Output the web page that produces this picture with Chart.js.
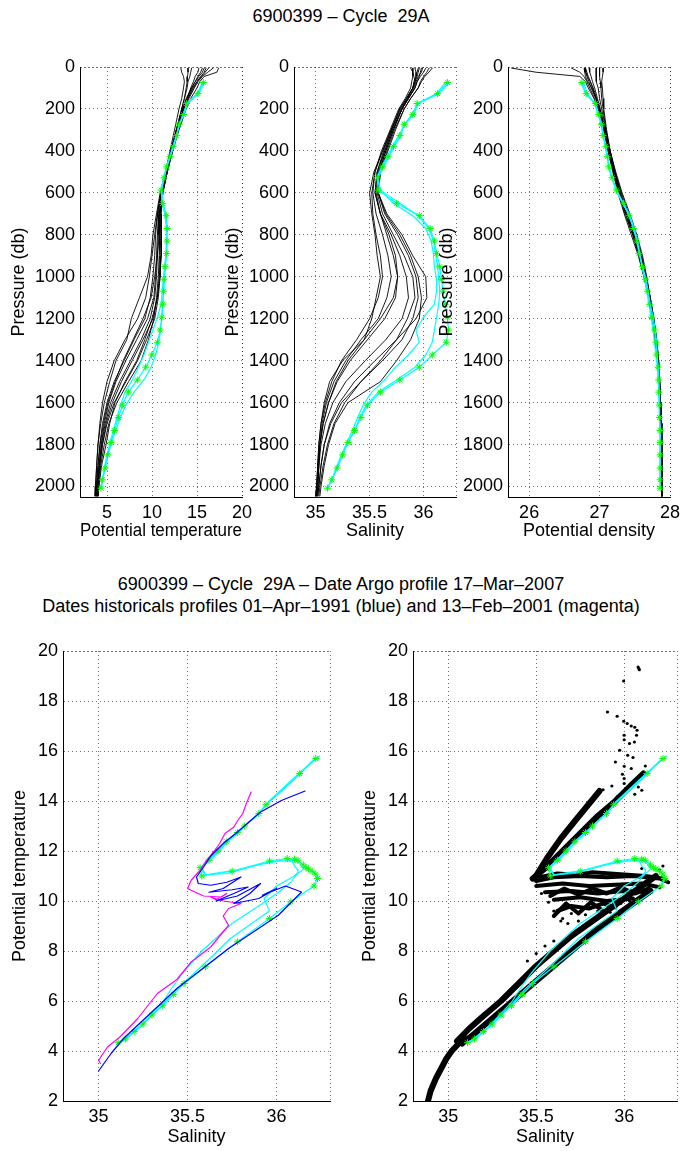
<!DOCTYPE html>
<html>
<head>
<meta charset="utf-8">
<script src="https://cdn.jsdelivr.net/npm/chart.js@4.4.0/dist/chart.umd.min.js"></script>
<style>
  body { margin: 0; background: #fff; width: 682px; height: 1151px; overflow: hidden; position: relative;
         font-family: "Liberation Sans", Arial, sans-serif; }
  canvas { position: absolute; }
  .ttl { position: absolute; left: 0; width: 682px; text-align: center; font-size: 18px; line-height: 21.7px;
         color: #000; white-space: nowrap; }
</style>
</head>
<body>
<div class="ttl" style="top:6px">6900399 – Cycle&nbsp;&nbsp;29A</div>
<div class="ttl" style="top:574px">6900399 – Cycle&nbsp;&nbsp;29A – Date Argo profile 17–Mar–2007<br>Dates historicals profiles 01–Apr–1991 (blue) and 13–Feb–2001 (magenta)</div>
<canvas id="pTemp"></canvas>
<canvas id="pSal"></canvas>
<canvas id="pDens"></canvas>
<canvas id="tsHist"></canvas>
<canvas id="tsCloud"></canvas>
<script>
// ---- data ----
const presTicks  = [0, 200, 400, 600, 800, 1000, 1200, 1400, 1600, 1800, 2000];
const tempTicks  = [5, 10, 15, 20];
const salTicks   = [35, 35.5, 36];
const densTicks  = [26, 27, 28];
const thetaTicks = [2, 4, 6, 8, 10, 12, 14, 16, 18, 20];

// historical profiles (black), one row per profile
const histPres = [5, 25, 45, 70, 100, 150, 200, 300, 400, 500, 600, 700, 800, 900, 1000, 1100, 1200, 1300, 1400, 1500, 1600, 1700, 1800, 1900, 2000, 2045];
const histTemp = [
  [17.4,17.2,15.8,15.3,15.0,14.3,13.8,13.0,12.3,11.7,11.2,11.0,10.9,10.8,10.7,10.5,10.2,9.6,8.8,7.4,6.1,5.2,4.7,4.3,4.1,4.0],
  [16.0,15.8,15.4,15.0,14.6,14.0,13.6,12.9,12.2,11.6,11.1,10.9,10.8,10.9,10.9,10.6,10.0,9.2,8.3,7.0,5.9,5.3,4.9,4.4,4.1,4.0],
  [13.2,13.3,13.5,13.6,13.5,13.3,13.0,12.5,12.0,11.5,11.0,10.6,10.3,10.0,9.7,9.3,8.4,7.0,5.8,5.0,4.5,4.2,4.0,3.85,3.75,3.7],
  [15.2,15.1,14.8,14.6,14.3,13.9,13.5,12.8,12.2,11.6,11.1,10.8,10.6,10.5,10.4,10.2,9.5,8.3,7.1,6.0,5.2,4.7,4.35,4.1,3.9,3.85],
  [14.4,14.3,14.2,14.0,13.9,13.6,13.3,12.7,12.1,11.5,10.9,10.5,10.1,9.9,9.5,8.6,7.7,7.2,6.0,5.3,4.7,4.3,4.0,3.85,3.7,3.65],
  [16.8,16.2,15.6,15.1,14.7,14.1,13.6,12.9,12.3,11.7,11.2,11.0,11.1,11.0,10.8,10.6,10.1,9.0,7.8,6.6,5.6,4.9,4.5,4.2,4.0,3.9],
  [15.6,15.4,15.1,14.8,14.4,13.8,13.4,12.7,12.1,11.6,11.0,10.7,10.7,10.6,10.5,10.3,9.8,8.8,7.6,6.4,5.4,4.8,4.4,4.15,3.95,3.9],
  [14.0,14.0,13.95,13.9,13.8,13.6,13.3,12.7,12.1,11.5,11.0,10.6,10.4,10.3,10.1,9.8,9.2,8.0,6.9,5.8,5.0,4.5,4.2,4.0,3.8,3.75],
  [16.3,15.9,15.5,15.0,14.5,14.0,13.5,12.8,12.2,11.7,11.2,10.9,10.8,10.6,10.3,9.9,9.0,7.9,6.8,5.9,5.1,4.6,4.25,4.0,3.85,3.8],
  [15.8,15.6,15.2,14.8,14.4,13.9,13.4,12.8,12.2,11.6,11.1,10.8,10.9,11.0,10.9,10.7,10.3,9.4,8.4,7.1,5.8,5.0,4.5,4.2,4.0,3.95]
];
const histSal = [
  [36.05,36.03,36.0,35.97,35.95,35.88,35.82,35.74,35.67,35.60,35.58,35.65,35.78,35.88,35.95,35.98,35.96,35.88,35.75,35.60,35.30,35.18,35.12,35.08,35.05,35.04],
  [35.92,35.93,35.93,35.91,35.90,35.85,35.80,35.72,35.65,35.59,35.57,35.62,35.72,35.82,35.90,35.92,35.85,35.75,35.60,35.42,35.27,35.17,35.11,35.07,35.04,35.03],
  [35.88,35.90,35.91,35.92,35.90,35.84,35.78,35.70,35.62,35.55,35.52,35.53,35.56,35.60,35.62,35.58,35.50,35.38,35.24,35.15,35.09,35.05,35.03,35.02,35.01,35.00],
  [35.98,35.97,35.96,35.94,35.92,35.86,35.80,35.71,35.64,35.57,35.55,35.60,35.66,35.72,35.76,35.74,35.64,35.48,35.32,35.20,35.12,35.07,35.04,35.03,35.02,35.01],
  [35.95,35.94,35.93,35.92,35.90,35.84,35.78,35.70,35.62,35.54,35.50,35.52,35.55,35.57,35.60,35.56,35.52,35.45,35.25,35.13,35.08,35.05,35.03,35.02,35.01,35.00],
  [36.08,36.05,36.01,35.98,35.95,35.88,35.82,35.73,35.66,35.60,35.58,35.66,35.80,35.90,36.02,36.03,35.93,35.75,35.55,35.36,35.22,35.13,35.08,35.05,35.03,35.02],
  [35.96,35.95,35.94,35.92,35.90,35.85,35.79,35.70,35.63,35.57,35.55,35.60,35.70,35.78,35.84,35.86,35.80,35.65,35.46,35.28,35.16,35.09,35.05,35.03,35.02,35.01],
  [35.90,35.90,35.90,35.89,35.88,35.83,35.77,35.69,35.61,35.55,35.53,35.56,35.62,35.67,35.70,35.66,35.58,35.42,35.28,35.17,35.10,35.06,35.04,35.02,35.01,35.00],
  [36.02,36.00,35.97,35.94,35.92,35.86,35.80,35.71,35.64,35.58,35.56,35.60,35.68,35.74,35.76,35.72,35.60,35.45,35.30,35.19,35.12,35.07,35.04,35.03,35.02,35.01],
  [35.99,35.98,35.95,35.93,35.91,35.86,35.80,35.72,35.65,35.59,35.58,35.64,35.76,35.86,35.93,35.95,35.90,35.80,35.62,35.42,35.24,35.14,35.08,35.05,35.03,35.02]
];
const histDens = [
  [25.75,26.1,26.72,26.8,26.84,26.92,26.98,27.06,27.12,27.19,27.27,27.36,27.47,27.56,27.63,27.70,27.75,27.79,27.82,27.845,27.86,27.87,27.875,27.88,27.885,27.885],
  [26.8,26.8,26.82,26.85,26.88,26.95,27.0,27.07,27.13,27.2,27.28,27.38,27.49,27.58,27.65,27.71,27.76,27.8,27.83,27.85,27.865,27.873,27.878,27.882,27.886,27.887],
  [27.05,27.05,27.04,27.03,27.04,27.05,27.06,27.1,27.15,27.22,27.3,27.4,27.5,27.59,27.65,27.71,27.76,27.8,27.83,27.85,27.862,27.87,27.876,27.88,27.883,27.885],
  [26.8,26.81,26.83,26.87,26.9,26.95,27.0,27.08,27.14,27.21,27.29,27.39,27.5,27.59,27.66,27.72,27.77,27.81,27.84,27.855,27.866,27.874,27.879,27.883,27.886,27.887],
  [26.95,26.95,26.95,26.96,26.98,27.0,27.03,27.09,27.15,27.23,27.32,27.43,27.53,27.61,27.67,27.72,27.77,27.81,27.835,27.85,27.862,27.87,27.876,27.88,27.884,27.885],
  [26.6,26.72,26.78,26.82,26.86,26.93,26.99,27.06,27.12,27.19,27.26,27.35,27.45,27.55,27.63,27.7,27.75,27.79,27.825,27.848,27.862,27.872,27.878,27.882,27.886,27.887],
  [26.78,26.79,26.8,26.83,26.89,26.95,27.0,27.07,27.13,27.2,27.28,27.38,27.48,27.57,27.64,27.71,27.76,27.8,27.83,27.852,27.865,27.873,27.878,27.882,27.885,27.886],
  [27.0,27.0,27.0,27.01,27.02,27.03,27.05,27.09,27.15,27.22,27.31,27.41,27.51,27.6,27.66,27.72,27.77,27.81,27.84,27.855,27.866,27.874,27.879,27.883,27.886,27.887],
  [26.85,26.86,26.88,26.9,26.93,26.97,27.01,27.08,27.14,27.21,27.29,27.39,27.49,27.58,27.65,27.71,27.76,27.8,27.835,27.853,27.865,27.873,27.878,27.882,27.885,27.886],
  [26.8,26.82,26.84,26.87,26.91,26.96,27.0,27.07,27.13,27.2,27.28,27.37,27.47,27.56,27.63,27.7,27.75,27.79,27.825,27.848,27.862,27.872,27.878,27.882,27.885,27.887]
];

// Argo profile (cyan + green stars)
const argoPres = [74,127,174,227,273,327,378,428,476,528,587,650,709,770,830,889,952,1012,1069,1131,1193,1254,1312,1373,1431,1492,1550,1612,1671,1733,1790,1849,1912,1968,2008];
const argoTemp = [15.7,15.1,13.85,13.5,13.0,12.74,12.37,12.0,11.63,11.33,11.0,11.19,11.6,11.7,11.67,11.63,11.44,11.33,11.28,11.19,11.08,10.9,10.6,9.97,9.3,8.37,7.37,6.7,6.26,5.81,5.44,5.08,4.78,4.48,4.33];
const argoSal  = [36.22,36.13,35.94,35.90,35.82,35.78,35.72,35.67,35.62,35.57,35.58,35.75,35.96,36.06,36.10,36.12,36.15,36.165,36.18,36.20,36.22,36.23,36.21,36.08,35.96,35.78,35.60,35.48,35.42,35.36,35.30,35.25,35.20,35.15,35.11];
const argoDens = [26.75,26.81,26.94,26.99,27.03,27.05,27.09,27.11,27.13,27.18,27.24,27.34,27.42,27.48,27.53,27.56,27.61,27.65,27.68,27.71,27.74,27.78,27.80,27.81,27.83,27.84,27.84,27.85,27.85,27.86,27.86,27.86,27.86,27.86,27.86];
// neighbouring Argo cycles (cyan, no markers), same pressure levels
const nearTemp = [
  [15.6,15.0,13.9,13.45,13.05,12.7,12.33,11.95,11.6,11.3,11.05,11.1,11.45,11.6,11.6,11.55,11.4,11.25,11.15,11.0,10.6,10.1,9.6,9.1,8.5,7.8,7.0,6.5,6.1,5.7,5.35,5.0,4.7,4.45,4.3],
  [15.8,15.2,13.95,13.55,13.0,12.75,12.4,12.02,11.65,11.35,11.05,11.25,11.55,11.65,11.62,11.6,11.5,11.38,11.3,11.2,11.1,10.95,10.75,10.4,9.9,9.1,8.0,7.1,6.5,5.95,5.5,5.12,4.8,4.5,4.35]
];
const nearSal = [
  [36.2,36.12,35.95,35.89,35.83,35.77,35.71,35.66,35.61,35.57,35.6,35.72,35.9,36.02,36.07,36.09,36.1,36.12,36.12,36.1,36.0,35.93,35.96,35.86,35.74,35.64,35.52,35.44,35.39,35.34,35.29,35.24,35.19,35.15,35.11],
  [36.24,36.14,35.95,35.91,35.82,35.79,35.73,35.68,35.63,35.58,35.6,35.78,35.95,36.05,36.09,36.11,36.13,36.14,36.15,36.14,36.12,36.1,36.08,36.02,35.92,35.75,35.58,35.47,35.41,35.36,35.3,35.25,35.2,35.15,35.11]
];
const nearDens = [
  [26.77,26.83,26.93,26.99,27.02,27.05,27.09,27.11,27.14,27.18,27.23,27.33,27.42,27.49,27.53,27.57,27.61,27.66,27.69,27.72,27.76,27.79,27.81,27.82,27.83,27.84,27.845,27.85,27.855,27.86,27.86,27.865,27.865,27.865,27.865],
  [26.74,26.8,26.93,26.98,27.03,27.05,27.08,27.11,27.13,27.17,27.24,27.33,27.43,27.49,27.54,27.57,27.6,27.64,27.67,27.7,27.73,27.76,27.78,27.8,27.82,27.83,27.84,27.85,27.85,27.86,27.86,27.86,27.86,27.86,27.86]
];

// reference historical profiles of the theta/S plot
const blueSal  = [36.16,36.03,35.91,35.78,35.70,35.63,35.59,35.55,35.56,35.63,35.72,35.80,35.70,35.62,35.75,35.84,35.76,35.66,35.78,35.91,35.85,35.76,35.90,36.0,35.92,36.05,36.14,36.01,35.73,35.44,35.14,35.07,35.0];
const blueTemp = [14.4,14.03,13.56,12.76,12.3,11.8,11.36,10.96,10.7,10.63,10.75,10.96,10.5,10.35,10.45,10.56,10.3,10.0,10.2,10.7,10.3,9.9,10.1,10.5,10.23,10.6,10.36,9.43,8.1,6.5,4.5,3.9,3.2];
const magSal   = [35.857,35.83,35.81,35.78,35.76,35.71,35.68,35.65,35.60,35.57,35.52,35.50,35.52,35.59,35.69,35.72,35.66,35.63,35.70,35.80,35.73,35.70,35.73,35.63,35.52,35.44,35.33,35.22,35.12,35.05,35.0,35.01];
const magTemp  = [14.36,13.9,13.5,13.2,12.96,12.7,12.3,12.0,11.56,11.23,10.83,10.5,10.43,10.2,10.16,10.3,10.05,10.16,10.0,9.9,9.7,9.4,9.03,8.16,7.56,6.86,6.3,5.3,4.56,4.16,3.63,3.5];

// dense clusters of historical theta/S points (black), traced as bands
const bandSal = [
  [34.885,34.9,34.93,34.96,34.99,35.02,35.06,35.1],
  [35.05,35.12,35.2,35.3,35.4,35.5,35.6,35.7,35.8,35.9,36.0,36.1,36.18],
  [35.08,35.15,35.25,35.35,35.45,35.55,35.65,35.75,35.85,35.95,36.05,36.15],
  [35.48,35.55,35.65,35.75,35.85,35.95,36.05,36.11],
  [35.49,35.56,35.64,35.72,35.79,35.86],
  [35.5,35.6,35.75,35.9,36.05,36.2,36.25],
  [35.52,35.62,35.72,35.82,35.92,36.02,36.12,36.22],
  [35.5,35.65,35.8,35.95,36.1,36.2],
  [35.58,35.66,35.74,35.82,35.9,35.98,36.06,36.14],
  [35.55,35.7,35.85,36.0,36.15],
  [35.6,35.75,35.9,36.05],
  [35.6,35.67,35.74,35.81,35.88],
  [35.62,35.7,35.8,35.88,35.95]
];
const bandTemp = [
  [2.0,2.4,2.9,3.3,3.7,4.0,4.3,4.5],
  [4.4,4.9,5.4,6.0,6.7,7.4,8.0,8.6,9.1,9.6,10.1,10.6,11.0],
  [4.3,4.7,5.3,5.9,6.5,7.1,7.7,8.3,8.9,9.4,9.9,10.4],
  [10.9,11.3,12.0,12.7,13.4,14.0,14.7,15.1],
  [10.9,11.7,12.5,13.2,13.8,14.4],
  [10.8,10.95,11.0,10.95,11.0,10.9,10.75],
  [10.95,11.1,11.05,11.15,11.1,11.05,11.0,10.9],
  [10.6,10.7,10.6,10.65,10.7,10.55],
  [10.2,10.5,10.25,10.5,10.3,10.55,10.3,10.5],
  [10.35,10.4,10.3,10.4,10.35],
  [10.05,10.15,10.0,10.1],
  [9.4,9.9,9.5,9.95,9.6],
  [9.6,9.8,9.7,9.9,9.75]
];
// isolated historical points
const dotSal  = [36.083,36.086,36.079,35.997,35.905,35.96,35.997,36.017,36.04,36.06,36.073,36.07,36.0,36.0,36.03,36.058,35.974,36.02,36.05,35.95,36.0,36.04,35.99,36.0,36.08,36.1,36.06,35.96,36.0,35.93,35.88,36.12,35.65,35.7,35.6,35.78,35.85,35.55,35.6,35.5,35.45,35.68,35.74,35.92,36.1,36.2,36.22,35.53,35.57,35.64,35.98,36.03];
const dotTemp = [19.3,19.25,19.36,18.8,17.56,17.39,17.19,17.1,17.0,16.95,16.83,16.63,16.63,16.45,16.3,16.36,16.03,15.83,15.74,15.56,15.39,15.3,15.07,14.9,14.56,14.43,14.27,14.17,14.7,14.6,14.45,15.4,9.3,9.5,9.6,9.45,9.6,8.2,8.4,7.9,7.6,9.1,9.2,9.55,11.3,11.25,11.4,10.3,9.95,9.2,9.9,10.0];

// ---- drawing ----
const FONT = {family: '"Liberation Sans", Arial, sans-serif', size: 18, lineHeight: 1.2};
const GRID = 'rgba(0,0,0,0.55)';
const CYAN = '#00ffff';

const pair = (xs, ys) => xs.map((v, i) => ({x: v, y: ys[i]}));

function line(data, color, width) {
  return {data, showLine: true, borderColor: color, borderWidth: width, pointRadius: 0,
          fill: false, tension: 0, borderJoinStyle: 'round', borderCapStyle: 'round'};
}
function stars(data) {
  return {data, showLine: false, pointStyle: 'star', pointRadius: 3.5, pointBorderWidth: 1,
          borderColor: '#00ff00', backgroundColor: '#00ff00'};
}
function dots(data, r) {
  return {data, showLine: false, pointStyle: 'circle', pointRadius: r, pointBorderWidth: 0,
          borderColor: '#000', backgroundColor: '#000'};
}

// dotted right/top edge like the matlab grid
const edgeDots = {
  id: 'edgeDots',
  beforeDatasetsDraw(chart) {
    const {ctx, chartArea: a} = chart;
    const xr = Math.round(a.right - 0.5) + 0.5, yt = Math.round(a.top - 0.5) + 0.5;
    ctx.save();
    ctx.strokeStyle = GRID; ctx.lineWidth = 1; ctx.setLineDash([1, 3]);
    ctx.beginPath();
    ctx.moveTo(xr, a.top); ctx.lineTo(xr, a.bottom);
    ctx.moveTo(a.left, yt); ctx.lineTo(a.right, yt);
    ctx.stroke();
    ctx.restore();
  }
};

function axis(a, isX, size) {
  return {
    type: 'linear', min: a.min, max: a.max, reverse: !!a.reverse,
    position: isX ? 'bottom' : 'left',
    afterBuildTicks: s => { s.ticks = a.ticks.map(v => ({value: v})); },
    afterFit: s => {
      if (isX) s.height = size; else s.width = size;
      s.paddingLeft = 0; s.paddingRight = 0; s.paddingTop = 0; s.paddingBottom = 0;
    },
    ticks: {color: '#000', font: FONT, padding: 5, maxRotation: 0, autoSkip: false,
            callback: v => String(v)},
    grid: {color: GRID, lineWidth: 1, drawTicks: false},
    border: {display: true, color: '#000', width: 1, dash: [1, 3]},
    title: {display: true, text: a.title, color: '#000', font: FONT, padding: a.pad}
  };
}

// area = plot box in page pixels [left, top, right, bottom]
function makePlot(id, area, L, R, xAx, yAx, datasets) {
  const T = 15, B = 50;
  const cv = document.getElementById(id);
  const w = area[2] - area[0] + L + R, h = area[3] - area[1] + T + B;
  cv.width = w; cv.height = h;
  cv.style.width = w + 'px'; cv.style.height = h + 'px';
  cv.style.left = (area[0] - L) + 'px'; cv.style.top = (area[1] - T) + 'px';
  new Chart(cv, {
    type: 'scatter',
    data: {datasets},
    options: {
      responsive: false, animation: false, devicePixelRatio: 1,
      layout: {padding: {left: 0, top: T, right: R, bottom: 0}},
      plugins: {legend: {display: false}, tooltip: {enabled: false}},
      scales: {x: axis(xAx, true, B), y: axis(yAx, false, L)}
    },
    plugins: [edgeDots]
  });
}

function profile(hist, argo, near) {
  const ds = [stars(pair(argo, argoPres)), line(pair(argo, argoPres), CYAN, 1.2)];
  near.forEach(v => ds.push(line(pair(v, argoPres), CYAN, 1.2)));
  hist.forEach(v => ds.push(line(pair(v, histPres), '#000', 0.9)));
  return ds;
}

const presAx = {min: 0, max: 2050, reverse: true, ticks: presTicks, title: 'Pressure (db)', pad: {top: 3}};

makePlot('pTemp', [80, 67, 242, 497], 75, 12,
  {min: 2, max: 20, ticks: tempTicks, title: 'Potential temperature', pad: {bottom: 5}},
  presAx, profile(histTemp, argoTemp, nearTemp));
makePlot('pSal', [294, 67, 456, 497], 75, 12,
  {min: 34.8, max: 36.3, ticks: salTicks, title: 'Salinity', pad: {bottom: 5}},
  presAx, profile(histSal, argoSal, nearSal));
makePlot('pDens', [508, 67, 670, 497], 75, 12,
  {min: 25.7, max: 28, ticks: densTicks, title: 'Potential density', pad: {bottom: 5}},
  presAx, profile(histDens, argoDens, nearDens));

const salAx = {min: 34.8, max: 36.3, ticks: salTicks, title: 'Salinity', pad: {bottom: 3}};
const thAx = {min: 2, max: 20, ticks: thetaTicks, title: 'Potential temperature', pad: {top: 1}};

const argoTS = [argoSal].concat(nearSal).map((s, i) => pair(s, [argoTemp].concat(nearTemp)[i]));

const leftTS = [line(pair(blueSal, blueTemp), '#0000ff', 1.2), line(pair(magSal, magTemp), '#ff00ff', 1.2),
                stars(pair(argoSal, argoTemp))];
argoTS.forEach(d => leftTS.push(line(d, CYAN, 1.2)));
makePlot('tsHist', [63, 651, 330, 1101], 55, 12, salAx, thAx, leftTS);

const rightTS = [stars(pair(argoSal, argoTemp))];
argoTS.forEach(d => rightTS.push(line(d, CYAN, 1.2)));
rightTS.push(dots(pair(dotSal, dotTemp), 1.6));
bandSal.forEach((s, i) => rightTS.push(line(pair(s, bandTemp[i]), '#000', i < 5 ? 6 : 4)));
makePlot('tsCloud', [413, 651, 680, 1101], 55, 2, salAx, thAx, rightTS);
</script>
</body>
</html>
